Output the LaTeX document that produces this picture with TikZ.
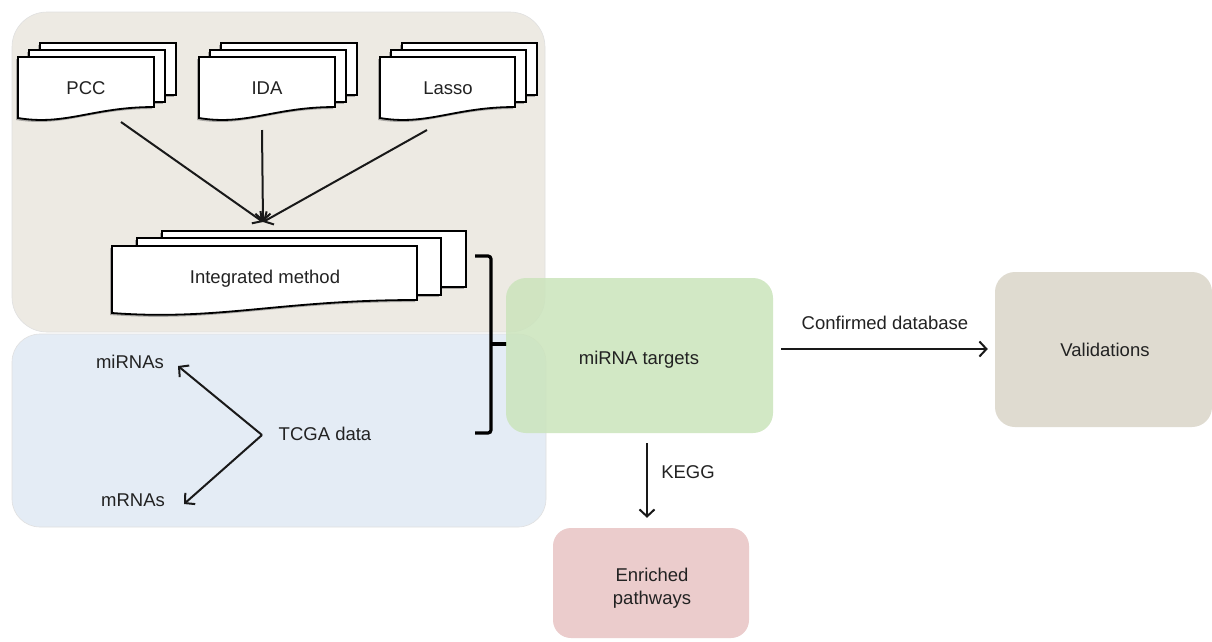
\documentclass[tikz,border=0pt]{standalone}
\usepackage{fontspec}
\setmainfont{Liberation Sans}
\usetikzlibrary{arrows.meta,shadows,calc}
\definecolor{tanbg}{HTML}{EDEAE3}
\definecolor{bluebg}{HTML}{E4ECF5}
\definecolor{greenbx}{HTML}{CBE4BC}
\definecolor{validbx}{HTML}{DFDBD0}
\definecolor{enrbx}{HTML}{EBCCCC}
\definecolor{txt}{HTML}{222222}
\tikzset{
  lbl/.style={font=\fontsize{18.5}{23}\selectfont, text=txt, inner sep=0pt},
  region/.style={draw=black!12, line width=0.6pt},
  page/.style={fill=white, draw=black, line width=1.8pt,
    drop shadow={shadow xshift=-2pt, shadow yshift=-2pt, fill=black!60, opacity=0.5}},
  arr/.style={draw=black!90, line width=2pt, -{Straight Barb[length=7pt,width=15pt,line width=2pt]}},
  bracel/.style={draw=black, line width=3.2pt, rounded corners=3pt},
  box/.style={rounded corners=20pt, inner sep=0pt}
}
% front page: L T R Bleft Bright
\newcommand\pagefront[5]{%
  \path[page] (#1,#2) -- (#3,#2) -- (#3,#5)
    .. controls ({#3-0.45*(#3-#1)},#5) and ({#1+0.35*(#3-#1)},{#4+8}) .. (#1,#4) -- cycle;}
% back page: L T R B
\newcommand\pageback[4]{\path[page] (#1,#2) rectangle (#3,#4);}
\begin{document}
\begin{tikzpicture}[x=1pt,y=-1pt]
\useasboundingbox[fill=white] (0,0) rectangle (1212,641);

% regions
\path[region, fill=tanbg, rounded corners=35pt] (12,12) rectangle (545,332);
\path[region, fill=bluebg, rounded corners=28pt] (12,334) rectangle (546,527);

% documents
\pageback{40}{43}{176}{95}
\pageback{29}{50}{165}{102}
\pagefront{18}{57}{154}{118}{107}
\node[lbl] (pcc) at (86,88) {PCC};

\pageback{221}{43}{357}{95}
\pageback{210}{50}{346}{102}
\pagefront{199}{57}{335}{118}{107}
\node[lbl] (ida) at (267,88) {IDA};

\pageback{402}{43}{537}{95}
\pageback{391}{50}{526}{102}
\pagefront{380}{57}{515}{118}{107}
\node[lbl] (lasso) at (448,88) {Lasso};

\pageback{162}{231}{466}{287}
\pageback{137}{238}{441}{295}
\pagefront{112}{246}{417}{313}{300}
\node[lbl] (integ) at (265,279) {Integrated method};

% converging arrows
\coordinate (pccA) at (121,122);
\coordinate (idaA) at (262,130);
\coordinate (lassoA) at (427,130);
\coordinate (conv) at (263,222);
\draw[arr] (pccA) -- (conv);
\draw[arr] (idaA) -- (conv);
\draw[arr] (lassoA) -- (conv);

% TCGA part
\node[lbl] (mirnas) at (130,362) {miRNAs};
\node[lbl] (mrnas) at (133,500) {mRNAs};
\node[lbl] (tcga) at (325,434) {TCGA data};
\coordinate (tv) at (262,435);
\coordinate (mitip) at (178,366);
\coordinate (mrtip) at (184,504);
\draw[arr] (tv) -- (mitip);
\draw[arr] (tv) -- (mrtip);

% brace
\coordinate (brT) at (475,256);
\coordinate (brB) at (475,433);
\coordinate (brTip) at (507,344);
\draw[bracel] (brT) -- (491,256) -- (491,433) -- (brB);
\draw[draw=black, line width=3.2pt] (491,344) -- (brTip);

% right-hand boxes
\node[box, fill=greenbx, fill opacity=0.85, minimum width=267pt, minimum height=155pt] (targets) at (639.5,355.5) {};
\node[lbl] (targetsT) at (639,360) {miRNA targets};
\node[box, fill=validbx, minimum width=217pt, minimum height=155pt] (valid) at (1103.5,349.5) {};
\node[lbl] (validT) at (1105,350) {Validations};
\node[box, fill=enrbx, rounded corners=18pt, minimum width=196pt, minimum height=110pt] (enr) at (651,583) {};
\node[lbl, align=center] (enrT) at (652,588) {Enriched\\pathways};

% connectors
\coordinate (cy) at (0,349);
\draw[arr, shorten <=8pt, shorten >=7pt] (targets.east |- cy) -- (valid.west |- cy);
\node[lbl] (cdb) at (885,323) {Confirmed database};
\coordinate (kx) at (647,0);
\draw[arr, shorten <=10pt, shorten >=10pt] (targets.south -| kx) -- (enr.north -| kx);
\node[lbl] (kegg) at (688,472) {KEGG};
\end{tikzpicture}
\end{document}
